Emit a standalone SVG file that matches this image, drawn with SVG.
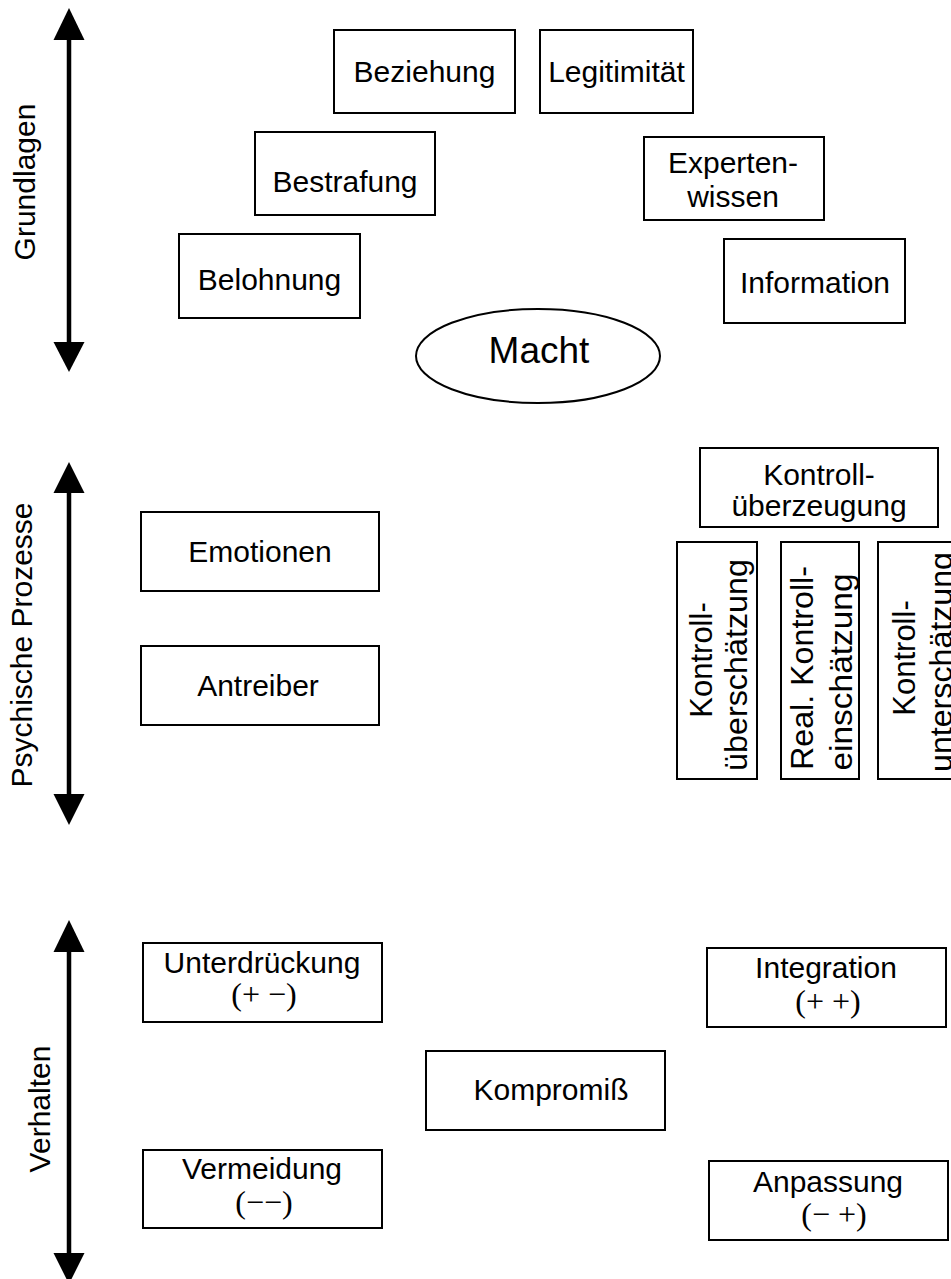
<svg xmlns="http://www.w3.org/2000/svg" width="951" height="1279" viewBox="0 0 951 1279">
<style>
.box{fill:#fff;stroke:#000;stroke-width:2}
.t{font-family:"Liberation Sans",Arial,sans-serif;font-size:30px;fill:#000;text-anchor:middle}
.r{font-size:31px}
.s{font-family:"Liberation Serif","Times New Roman",serif;font-size:32px;fill:#000;text-anchor:middle}
.ax{stroke:#000;stroke-width:4.5;fill:none}
.hd{fill:#000}
</style>
<rect width="951" height="1279" fill="#fff"/>
<g id="connectors">
<line class="ax" x1="69" y1="36" x2="69" y2="346"/>
<polygon class="hd" points="69,8 53.5,40 84.5,40"/>
<polygon class="hd" points="69,372 53.5,342 84.5,342"/>
<line class="ax" x1="69" y1="490" x2="69" y2="798"/>
<polygon class="hd" points="69,462 53.5,493 84.5,493"/>
<polygon class="hd" points="69,825 53.5,794 84.5,794"/>
<line class="ax" x1="69" y1="948" x2="69" y2="1257"/>
<polygon class="hd" points="69,920 53.5,952 84.5,952"/>
<polygon class="hd" points="69,1284 53.5,1253 84.5,1253"/>
</g>
<g id="axis-grundlagen"><text class="t" transform="translate(35,182) rotate(-90)">Grundlagen</text></g>
<g id="axis-psychische"><text class="t" transform="translate(32,645) rotate(-90)">Psychische Prozesse</text></g>
<g id="axis-verhalten"><text class="t" transform="translate(50,1109) rotate(-90)">Verhalten</text></g>

<g id="beziehung"><rect class="box" x="334" y="30" width="181" height="83"/><text class="t" x="424.5" y="82">Beziehung</text></g>
<g id="legitimitaet"><rect class="box" x="540" y="30" width="153" height="83"/><text class="t" x="616.5" y="82">Legitimität</text></g>
<g id="bestrafung"><rect class="box" x="255" y="132" width="180" height="83"/><text class="t" x="345" y="192">Bestrafung</text></g>
<g id="belohnung"><rect class="box" x="179" y="234" width="181" height="84"/><text class="t" x="269.5" y="290">Belohnung</text></g>
<g id="expertenwissen"><rect class="box" x="644" y="137" width="180" height="83"/><text class="t" x="733" y="173">Experten-</text><text class="t" x="733" y="207">wissen</text></g>
<g id="information"><rect class="box" x="724" y="239" width="181" height="84"/><text class="t" x="815" y="293">Information</text></g>
<g id="macht"><ellipse class="box" cx="538" cy="356" rx="122" ry="47"/><text class="t" x="539" y="363" style="font-size:37px">Macht</text></g>

<g id="emotionen"><rect class="box" x="141" y="512" width="238" height="79"/><text class="t" x="260" y="562">Emotionen</text></g>
<g id="antreiber"><rect class="box" x="141" y="646" width="238" height="79"/><text class="t" x="258" y="696">Antreiber</text></g>
<g id="kontrollueberzeugung"><rect class="box" x="700" y="448" width="238" height="79"/><text class="t" x="819" y="485">Kontroll-</text><text class="t" x="819" y="516">überzeugung</text></g>
<g id="kontrollueberschaetzung"><rect class="box" x="677" y="542" width="80" height="237"/><text class="t r" transform="translate(712,660) rotate(-90)">Kontroll-</text><text class="t r" transform="translate(747,665) rotate(-90)" textLength="212" lengthAdjust="spacingAndGlyphs">überschätzung</text></g>
<g id="realkontrolleinschaetzung"><rect class="box" x="781" y="542" width="78" height="237"/><text class="t r" transform="translate(813,668) rotate(-90)" textLength="204" lengthAdjust="spacingAndGlyphs">Real. Kontroll-</text><text class="t r" transform="translate(852,672) rotate(-90)" textLength="197" lengthAdjust="spacingAndGlyphs">einschätzung</text></g>
<g id="kontrollunterschaetzung"><rect class="box" x="878" y="542" width="80" height="237"/><text class="t r" transform="translate(915,658) rotate(-90)">Kontroll-</text><text class="t r" transform="translate(952,662) rotate(-90)" textLength="220" lengthAdjust="spacingAndGlyphs">unterschätzung</text></g>

<g id="unterdrueckung"><rect class="box" x="143" y="943" width="239" height="79"/><text class="t" x="262" y="973">Unterdrückung</text><text class="s" x="264" y="1005">(+ −)</text></g>
<g id="vermeidung"><rect class="box" x="143" y="1150" width="239" height="78"/><text class="t" x="262" y="1179">Vermeidung</text><text class="s" x="264" y="1213">(−−)</text></g>
<g id="kompromiss"><rect class="box" x="426" y="1051" width="239" height="79"/><text class="t" x="551" y="1100">Kompromiß</text></g>
<g id="integration"><rect class="box" x="707" y="948" width="239" height="79"/><text class="t" x="826" y="978">Integration</text><text class="s" x="828" y="1012">(+ +)</text></g>
<g id="anpassung"><rect class="box" x="709" y="1161" width="239" height="79"/><text class="t" x="828" y="1192">Anpassung</text><text class="s" x="834" y="1225">(− +)</text></g>
</svg>
